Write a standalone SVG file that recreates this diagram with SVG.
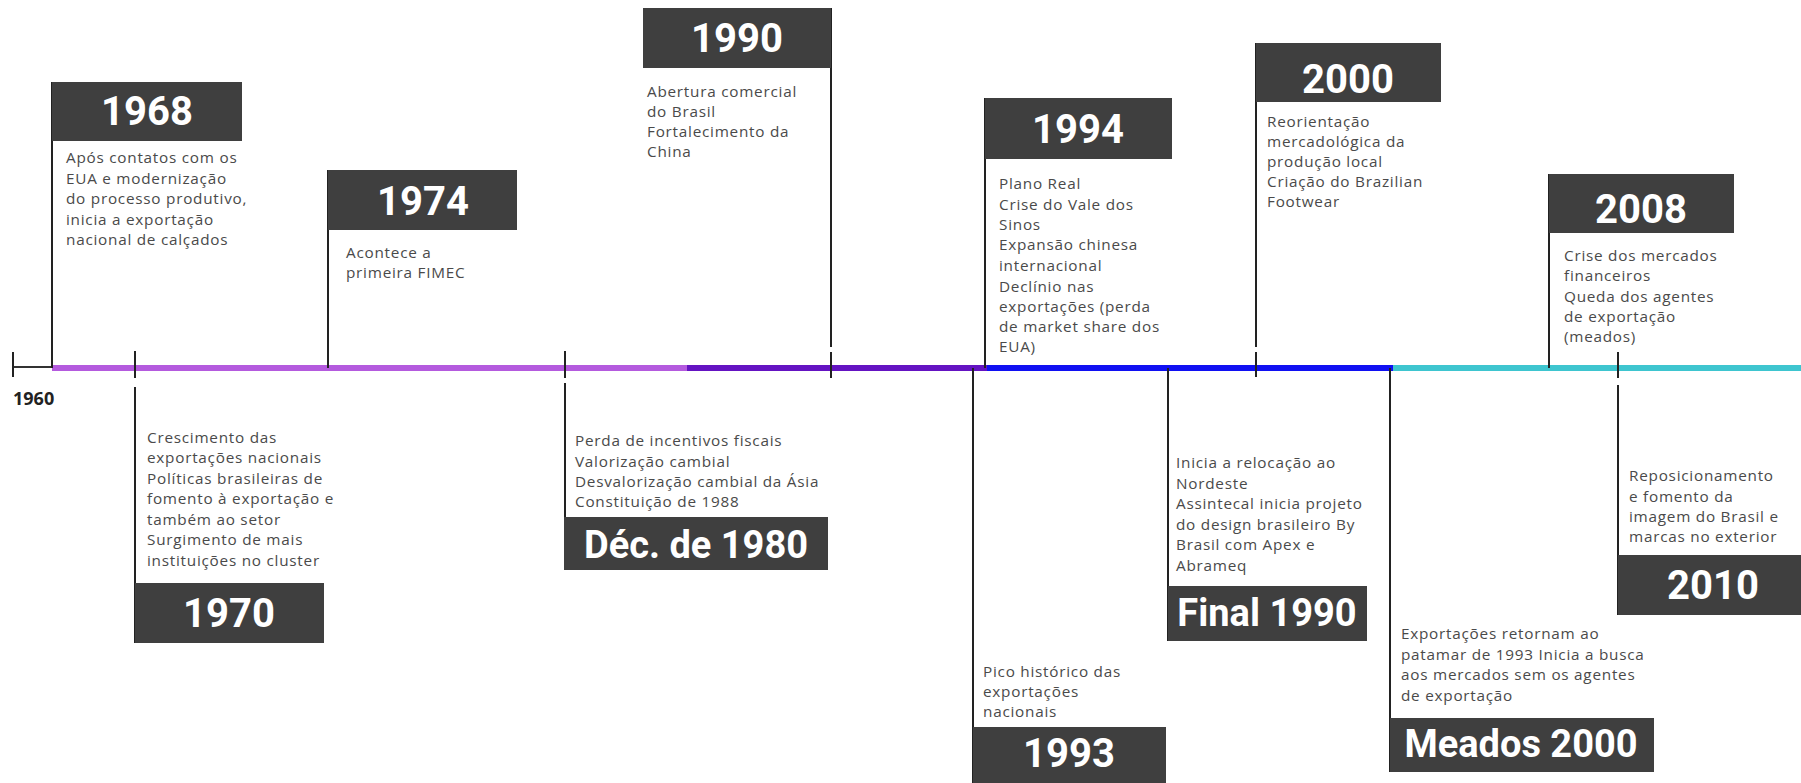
<svg xmlns="http://www.w3.org/2000/svg" width="1801" height="783" viewBox="0 0 1801 783">
<style>
.box{fill:#3f3f3f}
.yr{font-family:Roboto,"Liberation Sans",sans-serif;font-weight:bold;fill:#ffffff;font-size:40px;text-anchor:middle}
.yr2{font-family:Roboto,"Liberation Sans",sans-serif;font-weight:bold;fill:#ffffff;font-size:38px;text-anchor:middle}
.desc{font-family:"Open Sans","Liberation Sans",sans-serif;font-size:15.3px;fill:#4a4a4a;letter-spacing:0.75px}
.vl{stroke:#222222;stroke-width:2;fill:none}
</style>
<rect width="1801" height="783" fill="#ffffff"/>
<g id="connectors">
  <line x1="13" y1="367" x2="52" y2="367" stroke="#333" stroke-width="2"/>
  <line x1="13" y1="352" x2="13" y2="377" class="vl"/>
  <line x1="52" y1="368" x2="688" y2="368" stroke="#b45ade" stroke-width="6"/>
  <line x1="687" y1="368" x2="988" y2="368" stroke="#6413c2" stroke-width="6"/>
  <line x1="987" y1="368" x2="1393" y2="368" stroke="#1010f2" stroke-width="6"/>
  <line x1="1393" y1="368" x2="1801" y2="368" stroke="#3ec5cf" stroke-width="6"/>
</g>
<text x="13" y="405" font-family="'Open Sans','Liberation Sans',sans-serif" font-weight="bold" font-size="18" fill="#222">1960</text>
<g id="n1968">
  <line x1="52" y1="82" x2="52" y2="368" class="vl"/>
  <rect class="box" x="52" y="82" width="190" height="59"/>
  <text class="yr" x="147" y="125">1968</text>
  <text class="desc" x="66" y="163"><tspan x="66">Após contatos com os</tspan><tspan x="66" y="184">EUA e modernização</tspan><tspan x="66" y="204">do processo produtivo,</tspan><tspan x="66" y="225">inicia a exportação</tspan><tspan x="66" y="245">nacional de calçados</tspan></text>
</g>
<g id="n1970">
  <line x1="135" y1="351" x2="135" y2="378" class="vl"/>
  <line x1="135" y1="387" x2="135" y2="643" class="vl"/>
  <rect class="box" x="135" y="583" width="189" height="60"/>
  <text class="yr" x="229" y="627">1970</text>
  <text class="desc" x="147" y="443"><tspan x="147">Crescimento das</tspan><tspan x="147" y="463">exportações nacionais</tspan><tspan x="147" y="484">Políticas brasileiras de</tspan><tspan x="147" y="504">fomento à exportação e</tspan><tspan x="147" y="525">também ao setor</tspan><tspan x="147" y="545">Surgimento de mais</tspan><tspan x="147" y="566">instituições no cluster</tspan></text>
</g>
<g id="n1974">
  <line x1="328" y1="170" x2="328" y2="368" class="vl"/>
  <rect class="box" x="328" y="170" width="189" height="60"/>
  <text class="yr" x="423" y="215">1974</text>
  <text class="desc" x="346" y="258"><tspan x="346">Acontece a</tspan><tspan x="346" y="278">primeira FIMEC</tspan></text>
</g>
<g id="n1980">
  <line x1="565" y1="351" x2="565" y2="378" class="vl"/>
  <line x1="565" y1="383" x2="565" y2="570" class="vl"/>
  <rect class="box" x="564" y="517" width="264" height="53"/>
  <text class="yr2" x="696" y="558">Déc. de 1980</text>
  <text class="desc" x="575" y="446"><tspan x="575">Perda de incentivos fiscais</tspan><tspan x="575" y="467">Valorização cambial</tspan><tspan x="575" y="487">Desvalorização cambial da Ásia</tspan><tspan x="575" y="507">Constituição de 1988</tspan></text>
</g>
<g id="n1990">
  <line x1="831" y1="8" x2="831" y2="347" class="vl"/>
  <line x1="831" y1="352" x2="831" y2="378" class="vl"/>
  <rect class="box" x="643" y="8" width="188" height="60"/>
  <text class="yr" x="737" y="52">1990</text>
  <text class="desc" x="647" y="97"><tspan x="647">Abertura comercial</tspan><tspan x="647" y="117">do Brasil</tspan><tspan x="647" y="137">Fortalecimento da</tspan><tspan x="647" y="157">China</tspan></text>
</g>
<g id="n1993">
  <line x1="973" y1="368" x2="973" y2="783" class="vl"/>
  <rect class="box" x="973" y="727" width="193" height="56"/>
  <text class="yr" x="1069" y="767">1993</text>
  <text class="desc" x="983" y="677"><tspan x="983">Pico histórico das</tspan><tspan x="983" y="697">exportações</tspan><tspan x="983" y="717">nacionais</tspan></text>
</g>
<g id="n1994">
  <line x1="985" y1="98" x2="985" y2="368" class="vl"/>
  <rect class="box" x="985" y="98" width="187" height="61"/>
  <text class="yr" x="1078" y="143">1994</text>
  <text class="desc" x="999" y="189"><tspan x="999">Plano Real</tspan><tspan x="999" y="210">Crise do Vale dos</tspan><tspan x="999" y="230">Sinos</tspan><tspan x="999" y="250">Expansão chinesa</tspan><tspan x="999" y="271">internacional</tspan><tspan x="999" y="292">Declínio nas</tspan><tspan x="999" y="312">exportações (perda</tspan><tspan x="999" y="332">de market share dos</tspan><tspan x="999" y="352">EUA)</tspan></text>
</g>
<g id="nfinal1990">
  <line x1="1168" y1="368" x2="1168" y2="641" class="vl"/>
  <rect class="box" x="1168" y="586" width="199" height="55"/>
  <text class="yr2" x="1267" y="626" font-size="37">Final 1990</text>
  <text class="desc" x="1176" y="468"><tspan x="1176">Inicia a relocação ao</tspan><tspan x="1176" y="489">Nordeste</tspan><tspan x="1176" y="509">Assintecal inicia projeto</tspan><tspan x="1176" y="530">do design brasileiro By</tspan><tspan x="1176" y="550">Brasil com Apex e</tspan><tspan x="1176" y="571">Abrameq</tspan></text>
</g>
<g id="n2000">
  <line x1="1256" y1="43" x2="1256" y2="347" class="vl"/>
  <line x1="1256" y1="352" x2="1256" y2="377" class="vl"/>
  <rect class="box" x="1256" y="43" width="185" height="59"/>
  <text class="yr" x="1348" y="93">2000</text>
  <text class="desc" x="1267" y="127"><tspan x="1267">Reorientação</tspan><tspan x="1267" y="147">mercadológica da</tspan><tspan x="1267" y="167">produção local</tspan><tspan x="1267" y="187">Criação do Brazilian</tspan><tspan x="1267" y="207">Footwear</tspan></text>
</g>
<g id="nmeados2000">
  <line x1="1390" y1="368" x2="1390" y2="772" class="vl"/>
  <rect class="box" x="1390" y="718" width="264" height="54"/>
  <text class="yr2" x="1521" y="757">Meados 2000</text>
  <text class="desc" x="1401" y="639"><tspan x="1401">Exportações retornam ao</tspan><tspan x="1401" y="660">patamar de 1993 Inicia a busca</tspan><tspan x="1401" y="680">aos mercados sem os agentes</tspan><tspan x="1401" y="701">de exportação</tspan></text>
</g>
<g id="n2008">
  <line x1="1549" y1="174" x2="1549" y2="368" class="vl"/>
  <rect class="box" x="1549" y="174" width="185" height="59"/>
  <text class="yr" x="1641" y="223">2008</text>
  <text class="desc" x="1564" y="261"><tspan x="1564">Crise dos mercados</tspan><tspan x="1564" y="281">financeiros</tspan><tspan x="1564" y="302">Queda dos agentes</tspan><tspan x="1564" y="322">de exportação</tspan><tspan x="1564" y="342">(meados)</tspan></text>
</g>
<g id="n2010">
  <line x1="1618" y1="352" x2="1618" y2="378" class="vl"/>
  <line x1="1618" y1="385" x2="1618" y2="615" class="vl"/>
  <rect class="box" x="1618" y="555" width="183" height="60"/>
  <text class="yr" x="1713" y="599">2010</text>
  <text class="desc" x="1629" y="481"><tspan x="1629">Reposicionamento</tspan><tspan x="1629" y="502">e fomento da</tspan><tspan x="1629" y="522">imagem do Brasil e</tspan><tspan x="1629" y="542">marcas no exterior</tspan></text>
</g>
</svg>
